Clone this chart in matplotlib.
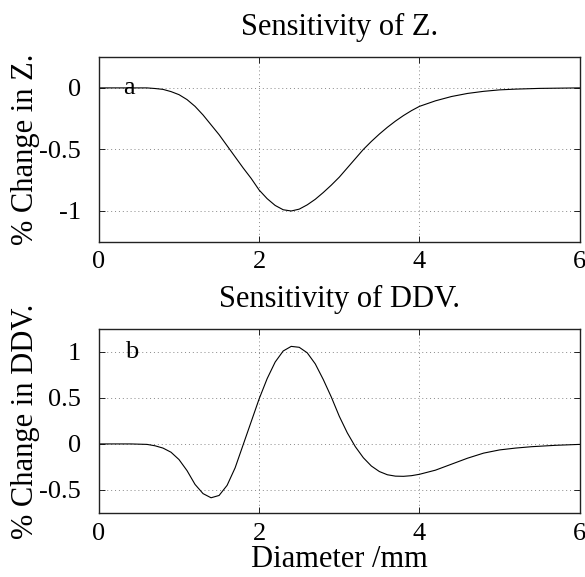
import numpy as np
import matplotlib
matplotlib.use("Agg")
import matplotlib.pyplot as plt

# Sensitivity curves
diam_z = [0.0, 0.4, 0.6, 0.7, 0.8, 0.9, 1.0, 1.1, 1.2, 1.3, 1.4, 1.5, 1.6, 1.7,
          1.8, 1.9, 2.0, 2.1, 2.2, 2.3, 2.4, 2.5, 2.6, 2.7, 2.8, 2.9, 3.0, 3.1,
          3.2, 3.3, 3.4, 3.5, 3.6, 3.7, 3.8, 3.9, 4.0, 4.2, 4.4, 4.6, 4.8, 5.0,
          5.2, 5.5, 6.0]
change_z = [0.0, 0.0, 0.0, -0.005, -0.012, -0.03, -0.055, -0.095, -0.15, -0.22,
            -0.30, -0.38, -0.47, -0.56, -0.65, -0.735, -0.83, -0.90, -0.955,
            -0.99, -1.0, -0.985, -0.95, -0.905, -0.85, -0.79, -0.725, -0.65,
            -0.575, -0.50, -0.435, -0.375, -0.32, -0.27, -0.225, -0.185, -0.15,
            -0.105, -0.07, -0.045, -0.028, -0.016, -0.01, -0.004, 0.0]

diam_ddv = [0.0, 0.4, 0.6, 0.7, 0.8, 0.9, 1.0, 1.1, 1.2, 1.3, 1.4, 1.5, 1.6,
            1.7, 1.8, 1.9, 2.0, 2.1, 2.2, 2.3, 2.4, 2.5, 2.6, 2.7, 2.8, 2.9,
            3.0, 3.1, 3.2, 3.3, 3.4, 3.5, 3.6, 3.7, 3.8, 3.9, 4.0, 4.2, 4.4,
            4.6, 4.8, 5.0, 5.2, 5.4, 5.7, 6.0]
change_ddv = [0.0, 0.0, -0.005, -0.02, -0.045, -0.09, -0.17, -0.29, -0.44,
              -0.54, -0.585, -0.56, -0.45, -0.26, -0.01, 0.24, 0.49, 0.71,
              0.89, 1.01, 1.06, 1.05, 0.99, 0.87, 0.70, 0.51, 0.30, 0.12,
              -0.03, -0.15, -0.24, -0.30, -0.335, -0.35, -0.352, -0.345,
              -0.33, -0.285, -0.22, -0.155, -0.10, -0.065, -0.045, -0.03,
              -0.015, -0.005]

x_ticks = [0, 2, 4, 6]
z_ticks = [0, -0.5, -1]
z_ticklabels = ["0", "-0.5", "-1"]
ddv_ticks = [1, 0.5, 0, -0.5]
ddv_ticklabels = ["1", "0.5", "0", "-0.5"]

plt.rcParams["font.family"] = ["Liberation Serif", "DejaVu Serif"]
fs = 22
tick_fs = 19

fig = plt.figure(figsize=(5.85, 5.77), dpi=100)
ax1 = fig.add_axes([0.169, 0.581, 0.822, 0.320])
ax2 = fig.add_axes([0.169, 0.111, 0.822, 0.319])


def style(ax):
    ax.set_xlim(0, 6)
    ax.set_xticks(x_ticks)
    ax.grid(True, linestyle=(0, (1, 3)), color="#888888", linewidth=0.7)
    ax.tick_params(direction="in", length=4, width=0.6, top=True, right=True,
                   labelsize=tick_fs, pad=7)
    ax.tick_params(axis="y", pad=13)
    for s in ax.spines.values():
        s.set_linewidth(1.0)
        s.set_color("#222222")


ax1.plot(diam_z, change_z, color="black", linewidth=0.8)
style(ax1)
ax1.set_ylim(-1.25, 0.25)
ax1.set_yticks(z_ticks)
ax1.set_yticklabels(z_ticklabels)
ax1.set_title("Sensitivity of Z.", fontsize=fs, pad=16)
ax1.set_ylabel("% Change in Z.", fontsize=fs, labelpad=-1)
ax1.text(0.3, 0.0, "a", fontsize=19, va="center", ha="left")

ax2.plot(diam_ddv, change_ddv, color="black", linewidth=0.8)
style(ax2)
ax2.set_ylim(-0.75, 1.25)
ax2.set_yticks(ddv_ticks)
ax2.set_yticklabels(ddv_ticklabels)
ax2.set_title("Sensitivity of DDV.", fontsize=fs, pad=16)
ax2.set_ylabel("% Change in DDV.", fontsize=fs, labelpad=-1)
ax2.set_xlabel("Diameter /mm", fontsize=fs, labelpad=0)
ax2.text(0.33, 1.0, "b", fontsize=19, va="center", ha="left")

fig.savefig("out.png", dpi=100)
